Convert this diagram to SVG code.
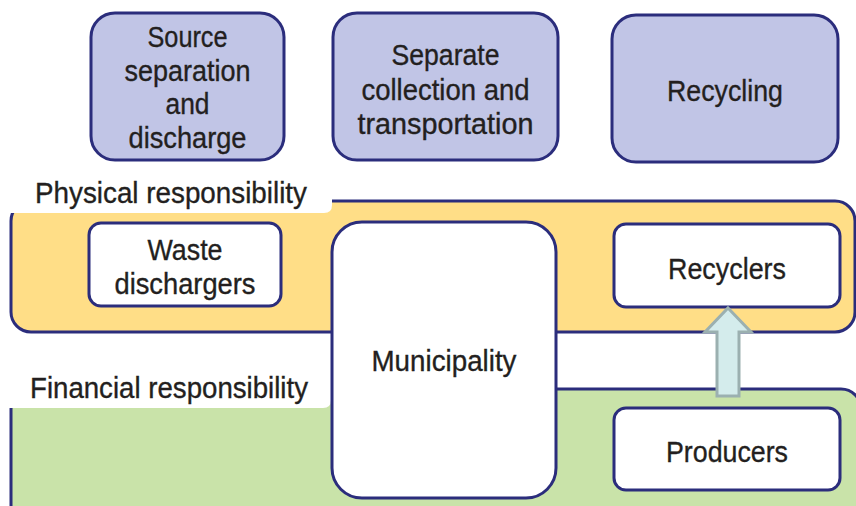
<svg xmlns="http://www.w3.org/2000/svg" width="856" height="506" viewBox="0 0 856 506">
<defs>
<style>
.t{font-family:"Liberation Sans","DejaVu Sans",sans-serif;font-size:30px;fill:#231f20;stroke:#231f20;stroke-width:0.35px;text-anchor:middle}
.lbl{font-family:"Liberation Sans","DejaVu Sans",sans-serif;font-size:30px;fill:#231f20;stroke:#231f20;stroke-width:0.35px}
.top{fill:#c1c5e6;stroke:#2b2d7c;stroke-width:3}
.box{fill:#ffffff;stroke:#2b2d7c;stroke-width:3}
.band{stroke:#2b2d7c;stroke-width:3}
</style>
</defs>
<rect width="856" height="506" fill="#ffffff"/>
<g id="physical-band">
<rect class="band" x="11" y="201" width="844" height="131" rx="20" fill="#ffde87"/>
<path d="M0 170 H332 V205 Q332 213 324 213 H0 Z" fill="#ffffff"/>
<text class="lbl" x="35" y="203" textLength="272" lengthAdjust="spacingAndGlyphs">Physical responsibility</text>
</g>
<g id="financial-band">
<rect class="band" x="11" y="389" width="850" height="140" rx="20" fill="#c9e3a9"/>
<path d="M0 368 H331 V400 Q331 408 323 408 H0 Z" fill="#ffffff"/>
<text class="lbl" x="30" y="398" textLength="278" lengthAdjust="spacingAndGlyphs">Financial responsibility</text>
</g>
<g id="source-separation">
<rect class="top" x="91" y="13" width="193" height="147" rx="24"/>
<text class="t" x="187.5" y="47" textLength="80" lengthAdjust="spacingAndGlyphs">Source</text>
<text class="t" x="187.5" y="81" textLength="126" lengthAdjust="spacingAndGlyphs">separation</text>
<text class="t" x="187.5" y="114" textLength="44" lengthAdjust="spacingAndGlyphs">and</text>
<text class="t" x="187.5" y="148" textLength="118" lengthAdjust="spacingAndGlyphs">discharge</text>
</g>
<g id="separate-collection">
<rect class="top" x="333" y="13" width="225" height="147" rx="24"/>
<text class="t" x="445.5" y="65" textLength="108" lengthAdjust="spacingAndGlyphs">Separate</text>
<text class="t" x="445.5" y="100" textLength="168" lengthAdjust="spacingAndGlyphs">collection and</text>
<text class="t" x="445.5" y="134" textLength="176" lengthAdjust="spacingAndGlyphs">transportation</text>
</g>
<g id="recycling">
<rect class="top" x="612" y="15" width="226" height="147" rx="24"/>
<text class="t" x="725" y="101" textLength="116" lengthAdjust="spacingAndGlyphs">Recycling</text>
</g>
<g id="waste-dischargers">
<rect class="box" x="89" y="223" width="192" height="83" rx="12"/>
<text class="t" x="185" y="260" textLength="75" lengthAdjust="spacingAndGlyphs">Waste</text>
<text class="t" x="185" y="294" textLength="141" lengthAdjust="spacingAndGlyphs">dischargers</text>
</g>
<g id="municipality">
<rect class="box" x="332" y="222" width="224" height="276" rx="30"/>
<text class="t" x="444" y="371" textLength="145" lengthAdjust="spacingAndGlyphs">Municipality</text>
</g>
<g id="recyclers">
<rect class="box" x="614" y="224" width="226" height="83" rx="12"/>
<text class="t" x="727" y="279" textLength="118" lengthAdjust="spacingAndGlyphs">Recyclers</text>
</g>
<g id="producers">
<rect class="box" x="614" y="408" width="226" height="82" rx="12"/>
<text class="t" x="727" y="462" textLength="122" lengthAdjust="spacingAndGlyphs">Producers</text>
</g>
<g id="connectors">
<path d="M728 308 L751 332 L739 332 L739 396 L717 396 L717 332 L705 332 Z" fill="#d4ecec" stroke="#9bb0b0" stroke-width="3" stroke-linejoin="miter"/>
</g>
</svg>
